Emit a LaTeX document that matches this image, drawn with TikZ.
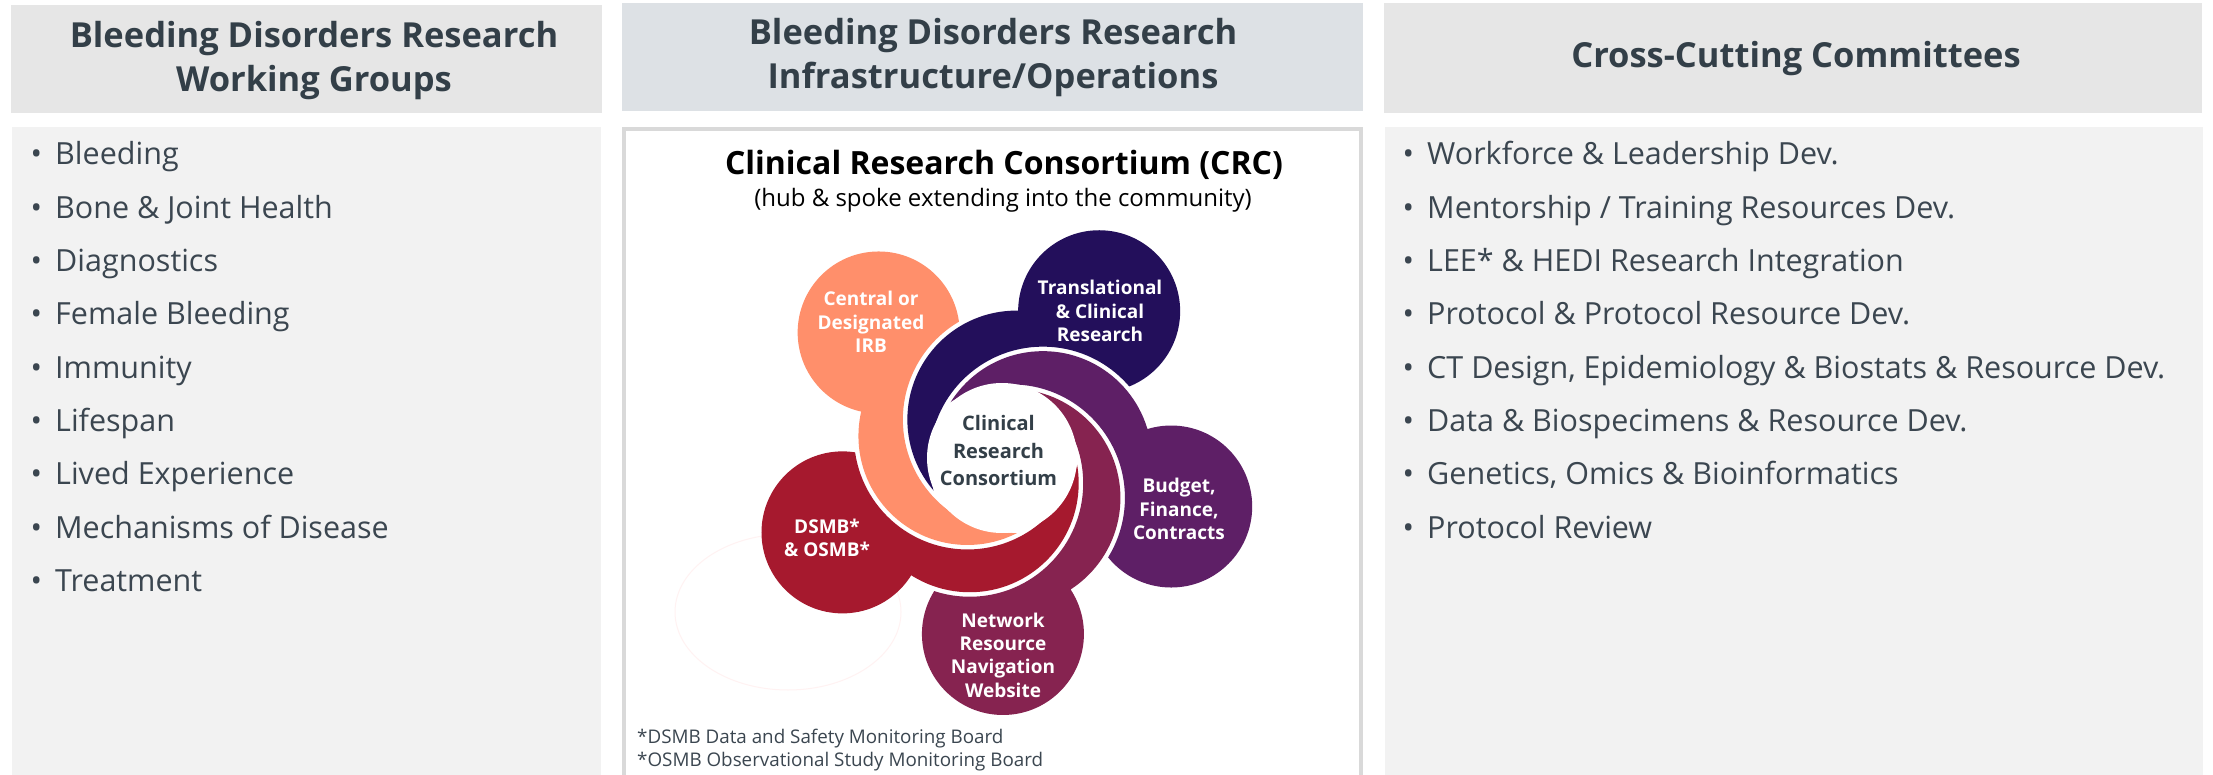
\documentclass[tikz,border=0pt]{standalone}
\usepackage{fontspec}
\setmainfont{Open Sans}
\usepackage{tikz}

\definecolor{headgray}{HTML}{E6E6E6}
\definecolor{headblue}{HTML}{DDE1E5}
\definecolor{bodygray}{HTML}{F2F2F2}
\definecolor{framegray}{HTML}{D9D9D9}
\definecolor{slate}{HTML}{333F48}
\definecolor{itemslate}{HTML}{3B4650}
\definecolor{irbsalmon}{HTML}{FF8F6B}
\definecolor{transnavy}{HTML}{230F5B}
\definecolor{budgetpurple}{HTML}{5E1F66}
\definecolor{netmaroon}{HTML}{862350}
\definecolor{dsmbred}{HTML}{A6192E}

\tikzset{
	headtext/.style={text=slate, align=center, inner sep=0pt,
		font=\bfseries\fontsize{34.5}{44.4}\selectfont},
	item/.style={anchor=base west, text=itemslate, inner sep=0pt,
		font=\fontsize{30.5}{36}\selectfont},
	petal/.style={text=white, align=center, inner sep=0pt,
		font=\bfseries\fontsize{19}{23.3}\selectfont},
	hubtext/.style={text=slate, align=center, inner sep=0pt,
		font=\bfseries\fontsize{20}{27.2}\selectfont},
	footnote/.style={anchor=base west, text=itemslate, inner sep=0pt,
		font=\fontsize{18.8}{23}\selectfont},
}
\newcommand{\bul}[1]{\makebox[24.5pt][l]{\textbullet}#1}

\begin{document}
\begin{tikzpicture}[x=1pt, y=-1pt]
	\useasboundingbox (0,0) rectangle (2213,775);
	% column heads
	\fill[headgray] (11,5) rectangle (602,113);
	\fill[headblue] (622,3) rectangle (1363,111);
	\fill[headgray] (1384,3) rectangle (2202,113);
	\node[headtext] (wghead) at (314,60.5) {Bleeding Disorders Research\\Working Groups};
	\node[headtext] (infrahead) at (993,57.5) {Bleeding Disorders Research\\Infrastructure/Operations};
	\node[headtext, anchor=base] (cchead) at (1796,68) {Cross-Cutting Committees};
	% column bodies
	\fill[bodygray] (12,127) rectangle (601,775);
	\fill[bodygray] (1385,127) rectangle (2203,775);
	\draw[framegray, line width=3.5pt, fill=white] (624,129) rectangle (1361,790);
	% working groups
	\foreach \t [count=\i from 0] in {Bleeding, Bone \& Joint Health, Diagnostics,
		Female Bleeding, Immunity, Lifespan, Lived Experience,
		Mechanisms of Disease, Treatment}
		\node[item] (wg\i) at (30.5,165+53.3*\i) {\bul{\t}};
	% committees
	\foreach \t [count=\i from 0] in {Workforce \& Leadership Dev.,
		Mentorship / Training Resources Dev.,
		LEE* \& HEDI Research Integration,
		Protocol \& Protocol Resource Dev.,
		{CT Design, Epidemiology \& Biostats \& Resource Dev.},
		Data \& Biospecimens \& Resource Dev.,
		{Genetics, Omics \& Bioinformatics}, Protocol Review}
		\node[item] (cc\i) at (1402.5,165+53.3*\i) {\bul{\t}};
	% CRC panel
	\node[anchor=base, font=\bfseries\fontsize{32}{36}\selectfont] (title) at (1004,175)
		{Clinical Research Consortium (CRC)};
	\node[anchor=base, font=\fontsize{24}{28}\selectfont] (subtitle) at (1003,207)
		{(hub \& spoke extending into the community)};
	\coordinate (hub) at (1002,458);
	\draw[red!5, line width=1pt] (788,612) ellipse (113 and 78);
	% petals: angle / colour / angle of the petal lying over it
	\foreach \ang/\col/\nbr in {-134.5/irbsalmon/-56.5, -56.5/transnavy/16,
		16/budgetpurple/89.7, 89.7/netmaroon/155, 155/dsmbred/-134.5}{
		\begin{scope}[even odd rule]
			\clip (0,0) rectangle (2213,775) (hub) ++(\nbr:176) circle (85.5);
			\clip (0,0) rectangle (2213,775) (hub) ++(\nbr-13:41) circle (113.5);
			\fill[\col, nonzero rule] (hub) ++(\ang:176) circle (81) (hub) ++(\ang-13:41) circle (109);
		\end{scope}
	}
	\fill[white] (hub) circle (75);
	\node[petal] (irb) at (871,322) {Central or\\Designated\\IRB};
	\node[petal] (transl) at (1100,311) {Translational\\\& Clinical\\Research};
	\node[petal] (budget) at (1179,509) {Budget,\\Finance,\\Contracts};
	\node[petal] (network) at (1003,655) {Network\\Resource\\Navigation\\Website};
	\node[petal] (dsmb) at (827,538) {DSMB*\\\& OSMB*};
	\node[hubtext] (crc) at (998.5,450.5) {Clinical\\Research\\Consortium};
	\node[footnote] (fn1) at (637,743) {*DSMB Data and Safety Monitoring Board};
	\node[footnote] (fn2) at (637,766) {*OSMB Observational Study Monitoring Board};
\end{tikzpicture}
\end{document}
